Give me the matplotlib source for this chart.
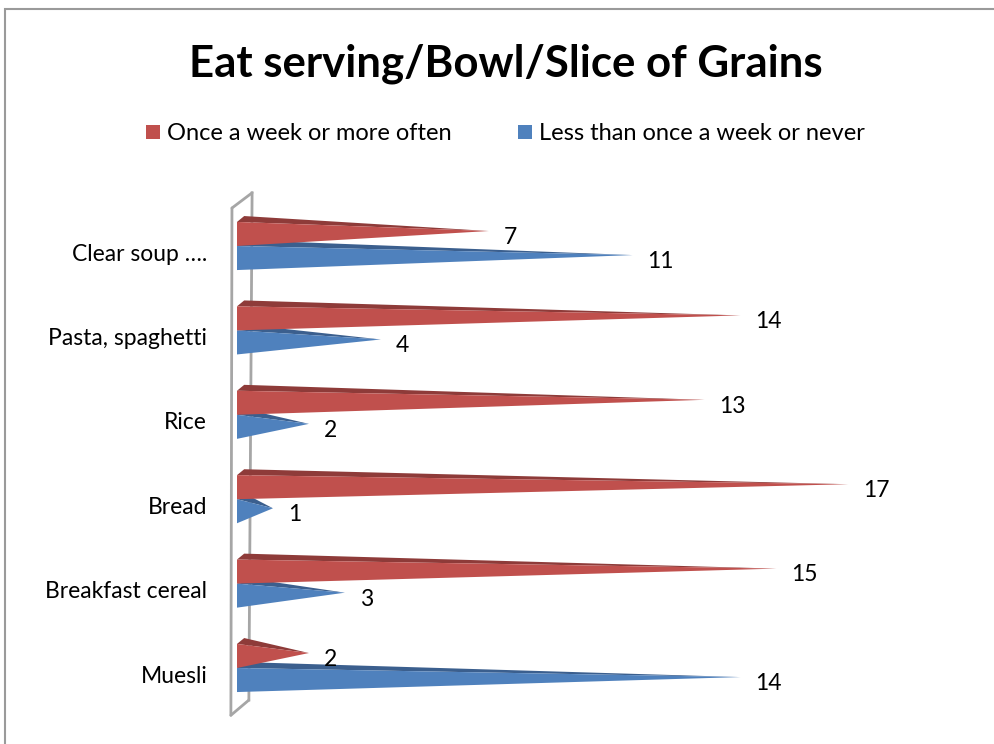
import matplotlib
matplotlib.use('Agg')
import matplotlib.pyplot as plt
from matplotlib.patches import Polygon, Rectangle

plt.rcParams['font.family'] = ['Lato', 'DejaVu Sans']

categories = ['Muesli', 'Breakfast cereal', 'Bread', 'Rice', 'Pasta, spaghetti', 'Clear soup ….']
once_a_week = [2, 15, 17, 13, 14, 7]
less_often = [14, 3, 1, 2, 4, 11]
series_names = ['Once a week or more often', 'Less than once a week or never']

red_face, red_top = '#C0504D', '#8E3B39'
blue_face, blue_top = '#4F81BD', '#3B5F8E'

W, H = 995, 744
fig = plt.figure(figsize=(W / 100, H / 100), dpi=100)

# outer chart border
fig.patches.append(Rectangle((5 / W, -0.1), 1.1, 1 - 9 / H + 0.1, transform=fig.transFigure,
                             fill=False, edgecolor='#9A9A9A', lw=1.5))

# plot area: value 0 at x=237px, 35.95 px per unit; category pitch 84.4 px
px_x, px_y = 35.95, 84.4
x0, x1 = -0.4, 20
y0, y1 = -0.65, 5.7
left = (237 + x0 * px_x) / W
width = (x1 - x0) * px_x / W
bottom = 1 - (668 - y0 * px_y) / H
height = (y1 - y0) * px_y / H
ax = fig.add_axes([left, bottom, width, height])
ax.set_xlim(x0, x1)
ax.set_ylim(y0, y1)
ax.axis('off')

# back wall
wall = dict(color='#A6A6A6', lw=2, solid_capstyle='round', zorder=1)
ax.plot([-0.14, -0.17], [5.45, -0.56], **wall)
ax.plot([-0.14, 0.42], [5.45, 5.63], **wall)
ax.plot([-0.17, 0.33], [-0.56, -0.38], **wall)
ax.plot([0.42, 0.33], [5.63, -0.38], color='#A6A6A6', lw=2, zorder=0.5)

bar_h = 0.285
depth_y = 0.07
depth_x = 0.2


def pyramid(v, lo, face, top):
    hi = lo + bar_h
    tip_y = lo + bar_h / 2 + depth_y / 2
    ax.add_patch(Polygon([(0, hi), (depth_x, hi + depth_y), (v, tip_y)], closed=True,
                         facecolor=top, edgecolor='none', zorder=2))
    ax.add_patch(Polygon([(0, lo), (0, hi), (v, tip_y)], closed=True,
                         facecolor=face, edgecolor='none', zorder=2))
    ax.text(v + 0.42, tip_y - 0.075, str(v), fontsize=16.5, va='center', ha='left', zorder=3)


for i, (r, b) in enumerate(zip(once_a_week, less_often)):
    pyramid(b, i - bar_h, blue_face, blue_top)
    pyramid(r, i, red_face, red_top)
    ax.text(-0.83, i - 0.095, categories[i], fontsize=16.5, ha='right', va='center')

fig.text(506 / W, 1 - 64 / H, 'Eat serving/Bowl/Slice of Grains', fontsize=31.5,
         fontweight='bold', ha='center', va='center')

# legend
for (x_sq, x_txt), name, c in zip([(146, 167), (518, 539)], series_names, [red_face, blue_face]):
    fig.patches.append(Rectangle((x_sq / W, 1 - 139 / H), 14 / W, 14 / H,
                                 transform=fig.transFigure, facecolor=c, edgecolor='none'))
    fig.text(x_txt / W, 1 - 134 / H, name, fontsize=17, ha='left', va='center')

fig.savefig('out.png', dpi=100)
